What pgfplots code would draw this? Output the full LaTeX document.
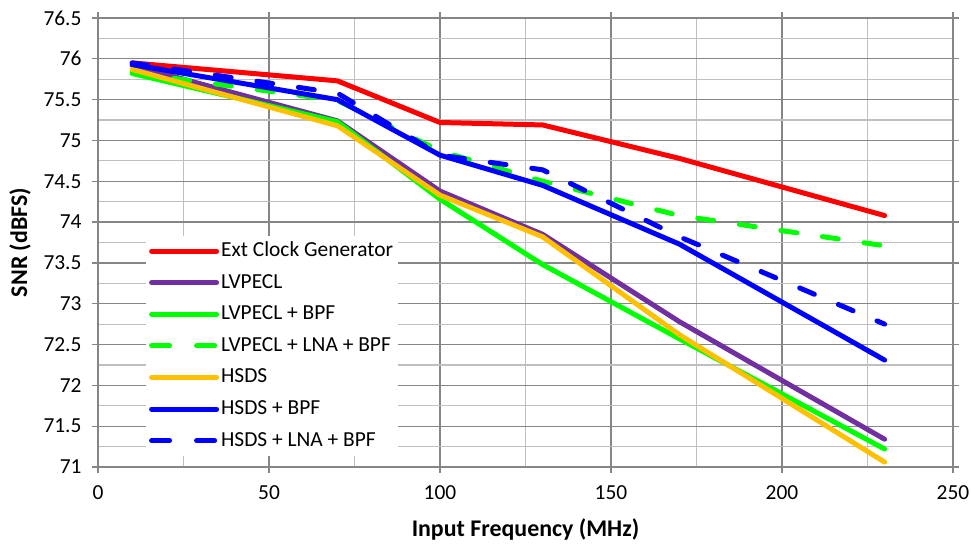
\documentclass[border=0pt]{standalone}
\usepackage{pgfplots}
\pgfplotsset{compat=1.18}
\usepackage{fontspec}
\setmainfont{Carlito}
\definecolor{cRed}{RGB}{255,0,0}
\definecolor{cPurple}{RGB}{112,48,160}
\definecolor{cGreen}{RGB}{0,255,0}
\definecolor{cOrange}{RGB}{255,192,0}
\definecolor{cBlue}{RGB}{0,0,255}
\definecolor{gridmaj}{RGB}{134,134,134}
\definecolor{gridmin}{RGB}{191,191,191}
\pgfplotsset{
  solidleg/.style={legend image code/.code={\draw[##1,solid] (2.5bp,0bp) -- (67.5bp,0bp);}},
  dashleg/.style={legend image code/.code={\draw[##1,dash pattern=on 18bp off 27bp] (2.5bp,0bp) -- (67.5bp,0bp);}},
  ser/.style={line width=5bp, line cap=round, line join=round, no markers},
}
\begin{document}
\begin{tikzpicture}
\begin{axis}[
  at={(0,0)}, anchor=south west,
  width=855bp, height=449bp, scale only axis,
  xmin=0, xmax=250, ymin=71, ymax=76.5,
  xtick={0,50,100,150,200,250},
  ytick={71,71.5,72,72.5,73,73.5,74,74.5,75,75.5,76,76.5},
  minor xtick={25,75,125,175,225},
  minor ytick={71.25,71.75,72.25,72.75,73.25,73.75,74.25,74.75,75.25,75.75,76.25},
  grid=both,
  major grid style={gridmaj, line width=1.2bp},
  minor grid style={gridmin, line width=1.2bp},
  axis line style={gridmaj, line width=1.5bp},
  tick align=outside,
  major tick length=6bp, minor tick length=0pt,
  tick style={gridmaj, line width=1.2bp},
  /pgf/number format/assume math mode=true,
  tick label style={font=\fontsize{21.5}{26}\selectfont, text=black},
  xticklabel style={yshift=-9bp},
  yticklabel style={xshift=-7bp},
  label style={font=\fontsize{24}{29}\selectfont\bfseries},
  xlabel={Input Frequency (MHz)},
  ylabel={SNR (dBFS)},
  xlabel style={yshift=-12bp},
  ylabel style={yshift=6bp},
  legend style={at={(rel axis cs:0.056,0.516)}, anchor=north west, fill=white, draw=none,
    font=\fontsize{21.5}{26}\selectfont, row sep=6.6bp, inner sep=3bp,
    nodes={text height=16bp, text depth=5bp, inner sep=2bp},
    /tikz/every even column/.append style={column sep=10bp}},
  legend cell align=left,
]
\addplot[ser, cRed, solidleg] coordinates {(10,75.95) (70,75.73) (100,75.22) (130,75.19) (170,74.78) (230,74.08)};
\addlegendentry{Ext Clock Generator}
\addplot[ser, cPurple, solidleg] coordinates {(10,75.92) (70,75.24) (100,74.38) (130,73.85) (170,72.78) (230,71.34)};
\addlegendentry{LVPECL}
\addplot[ser, cGreen, solidleg] coordinates {(10,75.82) (70,75.23) (100,74.28) (130,73.48) (170,72.57) (230,71.22)};
\addlegendentry{LVPECL + BPF}
\addplot[ser, cGreen, dash pattern=on 16bp off 26bp, dashleg] coordinates {(10,75.83) (70,75.49) (100,74.87) (130,74.5) (170,74.08) (230,73.71)};
\addlegendentry{LVPECL + LNA + BPF}
\addplot[ser, cOrange, solidleg] coordinates {(10,75.87) (70,75.18) (100,74.33) (130,73.82) (170,72.62) (230,71.06)};
\addlegendentry{HSDS}
\addplot[ser, cBlue, solidleg] coordinates {(10,75.93) (70,75.5) (100,74.82) (130,74.45) (170,73.73) (230,72.31)};
\addlegendentry{HSDS + BPF}
\addplot[ser, cBlue, dash pattern=on 16bp off 26bp, dashleg] coordinates {(10,75.95) (70,75.58) (100,74.82) (130,74.64) (170,73.82) (230,72.75)};
\addlegendentry{HSDS + LNA + BPF}
\end{axis}
\pgfresetboundingbox
\path (-98bp,-77bp) rectangle (873bp,467bp);
\end{tikzpicture}
\end{document}
